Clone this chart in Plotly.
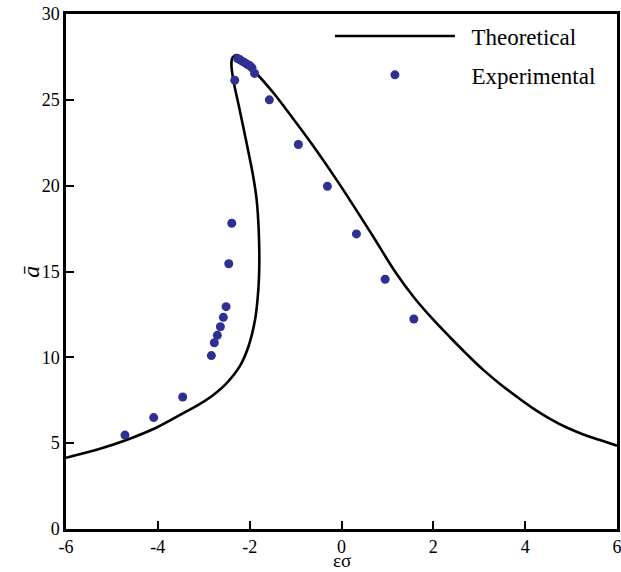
import plotly.graph_objects as go

# Theoretical response curve, ordered along the curve
theory_x = [-6.0, -5.260, -4.715, -4.025, -3.445, -3.082, -2.792, -2.500, -2.211, -2.030,
            -1.884, -1.812, -1.790, -1.803, -1.847, -1.910, -1.962, -2.095, -2.232, -2.356,
            -2.396, -2.385, -2.341, -2.276, -1.847, -1.485, -1.122, -0.649, -0.070, 0.658,
            1.187, 1.601, 1.999, 2.363, 2.727, 3.088, 3.452, 3.815, 4.171, 4.541,
            4.905, 5.266, 5.630, 6.0]
theory_y = [4.15, 4.67, 5.15, 5.91, 6.75, 7.29, 7.81, 8.50, 9.50, 10.60,
            12.17, 13.92, 15.48, 17.42, 19.16, 20.33, 21.10, 22.85, 24.60, 26.16,
            26.97, 27.38, 27.55, 27.61, 26.52, 25.41, 24.15, 22.44, 20.19, 17.17,
            14.91, 13.41, 12.19, 11.17, 10.19, 9.27, 8.45, 7.71, 7.03, 6.42,
            5.91, 5.51, 5.18, 4.85]

# Experimental points
exp_x = [-4.715, -4.09, -3.458, -2.834, -2.77, -2.704, -2.638, -2.573, -2.514,
         -2.455, -2.39, -2.325, -2.264, -2.209, -2.155, -2.100, -2.046, -1.991,
         -1.948, -1.893, -1.571, -0.939, -0.307, 0.325, 0.950, 1.575]
exp_y = [5.47, 6.49, 7.69, 10.10, 10.85, 11.28, 11.78, 12.33, 12.95,
         15.45, 17.81, 26.14, 27.41, 27.33, 27.24, 27.15, 27.06, 26.98,
         26.86, 26.54, 25.0, 22.40, 19.96, 17.19, 14.55, 12.23]

x_ticks = [-6, -4, -2, 0, 2, 4, 6]
x_ticktext = ["-6", "-4", "-2", "0", "2", "4", "6"]
y_ticks = [0, 5, 10, 15, 20, 25, 30]
y_ticktext = ["0", "5", "10", "15", "20", "25", "30"]

SERIF = "Liberation Serif, Times New Roman, serif"
BLUE = "#2E3192"

fig = go.Figure()
fig.add_trace(go.Scatter(x=theory_x, y=theory_y, mode="lines",
                         name="\u00a0\u00a0Theoretical",
                         line=dict(color="black", width=2.6, shape="spline", smoothing=1.0),
                         legendgroup="a"))
fig.add_trace(go.Scatter(x=exp_x, y=exp_y, mode="markers",
                         name="\u00a0\u00a0Experimental",
                         marker=dict(color=BLUE, size=9), legendgroup="b"))

axis_common = dict(showline=True, linecolor="black", linewidth=2.5, mirror=True,
                   ticks="inside", ticklen=8, tickwidth=2, tickcolor="black",
                   showgrid=False, zeroline=False, automargin=False,
                   ticklabeloverflow="allow",
                   tickfont=dict(family=SERIF, size=18, color="black"))

fig.update_xaxes(range=[-6, 6], tickvals=x_ticks, ticktext=x_ticktext, **axis_common)
fig.update_yaxes(range=[0, 30], tickvals=y_ticks, ticktext=y_ticktext, **axis_common)

fig.add_annotation(text="εσ", xref="paper", yref="paper", x=0.5, y=-0.062,
                   xanchor="center", yanchor="middle", showarrow=False,
                   font=dict(family=SERIF, size=19, color="black"))
fig.add_annotation(text="<i>ā</i>", xref="paper", yref="paper", x=-0.065, y=0.5,
                   xanchor="center", yanchor="middle", showarrow=False, textangle=-90,
                   font=dict(family=SERIF, size=24, color="black"))

fig.update_layout(
    width=621, height=572,
    margin=dict(l=66, r=4, t=14, b=43),
    font=dict(family=SERIF, color="black"),
    plot_bgcolor="white", paper_bgcolor="white",
    showlegend=True,
    legend=dict(x=0.479, y=0.999, xanchor="left", yanchor="top",
                font=dict(family=SERIF, size=23, color="black"),
                itemwidth=120, tracegroupgap=6, bgcolor="rgba(0,0,0,0)"),
)

fig.write_html(
    "out.html",
    config={"displayModeBar": False},
    post_script=("document.body.style.margin='0';"
                 "document.body.style.overflow='hidden';"
                 "document.documentElement.style.overflow='hidden';"),
)
